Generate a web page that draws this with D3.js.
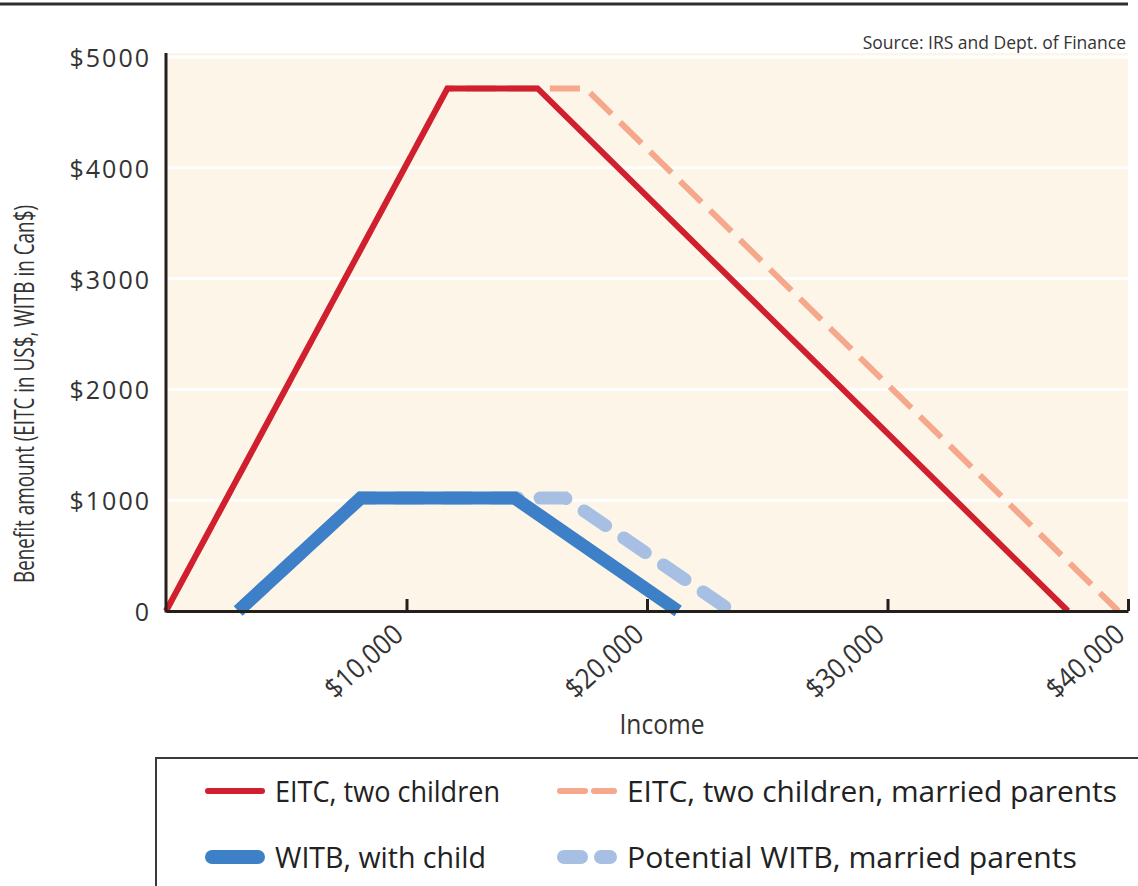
<!DOCTYPE html>
<html><head><meta charset="utf-8">
<script src="https://cdn.jsdelivr.net/npm/d3@7"></script>
<style>
body{margin:0;background:#fff;}
svg{display:block;}
.cond{font-family:"Open Sans","Noto Sans",sans-serif;}
</style></head>
<body>
<svg id="chart" width="1138" height="886"></svg>
<script>
// ---- data ----
const eitcTwoChildren = [[0,0],[11700,4716],[15450,4716],[37500,0]];
const eitcMarried     = [[0,0],[11700,4716],[17450,4716],[39600,0]];
const witbWithChild   = [[3000,0],[8095,1019],[14500,1019],[21293,0]];
const witbMarried     = [[3000,0],[8095,1019],[16600,1019],[23500,0]];
const xTicks = [10000,20000,30000,40000];
const xTickLabels = ["$10,000","$20,000","$30,000","$40,000"];
const yTicks = [0,1000,2000,3000,4000,5000];
const yTickLabels = ["0","$1000","$2000","$3000","$4000","$5000"];
const legendLabels = ["EITC, two children","EITC, two children, married parents","WITB, with child","Potential WITB, married parents"];

const svg = d3.select("#chart");
const x = d3.scaleLinear().domain([0,40000]).range([166,1128]);
const y = d3.scaleLinear().domain([0,5000]).range([611,57]);

// squeeze text to a condensed width
function squeeze(sel, len){ sel.attr("textLength",len).attr("lengthAdjust","spacingAndGlyphs"); return sel; }

// top rule
svg.append("line").attr("x1",0).attr("x2",1128).attr("y1",4).attr("y2",4)
  .attr("stroke","#2e2e2e").attr("stroke-width",3);

// plot background
svg.append("rect").attr("x",x(0)).attr("y",53).attr("width",x(40000)-x(0)).attr("height",y(0)-53)
  .attr("fill","#fdf5e8");

// gridlines
svg.append("g").selectAll("line").data(yTicks.filter(d=>d>0)).join("line")
  .attr("x1",x(0)).attr("x2",x(40000)).attr("y1",d=>y(d)).attr("y2",d=>y(d))
  .attr("stroke","#ffffff").attr("stroke-width",3);

// source
svg.append("text").attr("class","cond").attr("x",1126).attr("y",49).attr("text-anchor","end")
  .attr("font-size",17.5).attr("fill","#333").text("Source: IRS and Dept. of Finance");

const line = d3.line().x(d=>x(d[0])).y(d=>y(d[1]));

// dashed series first (under solids)
svg.append("path").datum(witbMarried).attr("d",line).attr("fill","none")
  .attr("stroke","#a6bfe3").attr("stroke-width",13).attr("stroke-linecap","round")
  .attr("stroke-dasharray","26,22").attr("stroke-dashoffset",-10);
svg.append("path").datum(eitcMarried).attr("d",line).attr("fill","none")
  .attr("stroke","#f5a88c").attr("stroke-width",6)
  .attr("stroke-dasharray","30,12").attr("stroke-dashoffset",-24);
svg.append("path").datum(witbWithChild).attr("d",line).attr("fill","none")
  .attr("stroke","#3d80c8").attr("stroke-width",13);
svg.append("path").datum(eitcTwoChildren).attr("d",line).attr("fill","none")
  .attr("stroke","#d01f2e").attr("stroke-width",6);

// axes
const yAxis = d3.axisLeft(y).tickValues(yTicks).tickFormat((d,i)=>yTickLabels[i]).tickSize(0).tickPadding(15);
const gy = svg.append("g").attr("transform",`translate(${x(0)},0)`).call(yAxis);
gy.select(".domain").remove();
gy.selectAll("text").attr("font-family","'Open Sans',sans-serif").attr("font-size",25)
  .attr("fill","#333").attr("letter-spacing",2).attr("dy","0.38em");
svg.append("line").attr("x1",x(0)).attr("x2",x(0)).attr("y1",53).attr("y2",y(0)+1.5)
  .attr("stroke","#231f1c").attr("stroke-width",3);

const xAxis = d3.axisBottom(x).tickValues(xTicks).tickFormat((d,i)=>xTickLabels[i]).tickSize(-12).tickSizeOuter(0);
const gx = svg.append("g").attr("transform",`translate(0,${y(0)})`).call(xAxis);
gx.select(".domain").attr("stroke","#231f1c").attr("stroke-width",3);
gx.selectAll(".tick line").attr("stroke","#231f1c").attr("stroke-width",3);
gx.selectAll("text").attr("class","cond").attr("font-size",28).attr("fill","#333")
  .attr("text-anchor","end").attr("dy",null).attr("y",0)
  .attr("transform","translate(-2,26) rotate(-42)")
  .attr("textLength",94).attr("lengthAdjust","spacingAndGlyphs");

// axis titles
squeeze(svg.append("text").attr("class","cond").attr("transform","translate(34,394) rotate(-90)")
  .attr("text-anchor","middle").attr("font-size",28).attr("fill","#333")
  .text("Benefit amount (EITC in US$, WITB in Can$)"), 378);
squeeze(svg.append("text").attr("class","cond").attr("x",662).attr("y",734).attr("text-anchor","middle")
  .attr("font-size",28).attr("fill","#333").text("Income"), 85);

// legend
svg.append("rect").attr("x",156).attr("y",758).attr("width",1000).attr("height",140)
  .attr("fill","#fff").attr("stroke","#3a3a3a").attr("stroke-width",2);
const leg = [
  {x:205,y:791,color:"#d01f2e",w:6,dash:null,label:legendLabels[0],len:225},
  {x:557,y:791,color:"#f5a88c",w:6,dash:"25,9",label:legendLabels[1],len:490},
  {x:205,y:857,color:"#3d80c8",w:14,dash:null,label:legendLabels[2],len:211},
  {x:557,y:857,color:"#a6bfe3",w:14,dash:"17,20",label:legendLabels[3],len:450}
];
const lg = svg.append("g").selectAll("g").data(leg).join("g");
lg.append("line").attr("x1",d=>d.x+d.w/2).attr("x2",d=>d.x+60-d.w/2).attr("y1",d=>d.y).attr("y2",d=>d.y)
  .attr("stroke",d=>d.color).attr("stroke-width",d=>d.w).attr("stroke-linecap","round")
  .attr("stroke-dasharray",d=>d.dash);
lg.append("text").attr("class","cond").attr("x",d=>d.x+70).attr("y",d=>d.y+11).attr("font-size",30)
  .attr("fill","#222").text(d=>d.label).attr("textLength",d=>d.len).attr("lengthAdjust","spacingAndGlyphs");
</script>
</body></html>
